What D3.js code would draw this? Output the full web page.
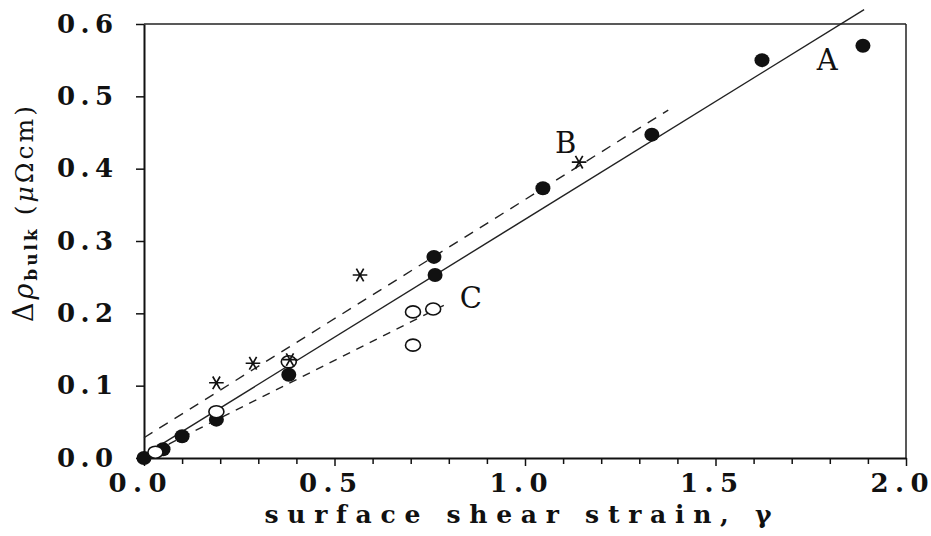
<!DOCTYPE html>
<html>
<head>
<meta charset="utf-8">
<script src="https://cdn.jsdelivr.net/npm/d3@7/dist/d3.min.js"></script>
<style>
  body { margin: 0; background: #fff; }
  svg { display: block; }
  .axis path, .axis line { stroke: #111; }
  .axis text { font-family: "DejaVu Serif", serif; fill: #111; }
</style>
</head>
<body>
<div id="chart"></div>
<script>
// data (strain gamma, delta rho in micro-ohm cm)
var filledX = [0.00, 0.05, 0.10, 0.19, 0.38, 0.764, 0.761, 1.047, 1.333, 1.622, 1.887];
var filledY = [0.000, 0.012, 0.030, 0.053, 0.115, 0.253, 0.278, 0.373, 0.447, 0.550, 0.570];

var openX = [0.03, 0.19, 0.38, 0.706, 0.759, 0.706];
var openY = [0.008, 0.064, 0.133, 0.202, 0.206, 0.156];

var starX = [0.19, 0.286, 0.383, 0.567, 1.142];
var starY = [0.104, 0.131, 0.136, 0.253, 0.409];

// end points of the three fitted lines
var lineAX = [0.00, 1.89], lineAY = [0.004, 0.620];
var lineBX = [0.00, 1.376], lineBY = [0.028, 0.481];
var lineCX = [0.03, 0.79], lineCY = [0.010, 0.212];

var curveNames = ["A", "B", "C"];
var curveLabelX = [1.766, 1.079, 0.829];
var curveLabelY = [0.537, 0.422, 0.207];

var xMajorTicks = [0.0, 0.5, 1.0, 1.5, 2.0];
var xMinorTicks = [0.1, 0.2, 0.3, 0.4, 0.6, 0.7, 0.8, 0.9, 1.1, 1.2, 1.3, 1.4, 1.6, 1.7, 1.8, 1.9];
var yTicks = [0.0, 0.1, 0.2, 0.3, 0.4, 0.5, 0.6];

var margin = {top: 24, right: 25, bottom: 78, left: 144},
    width = 931 - margin.left - margin.right,
    height = 536 - margin.top - margin.bottom;

var x = d3.scaleLinear().domain([0, 2]).range([0, width]);
var y = d3.scaleLinear().domain([0, 0.6]).range([height, 0]);

var svg = d3.select("#chart").append("svg")
    .attr("width", width + margin.left + margin.right)
    .attr("height", height + margin.top + margin.bottom)
  .append("g")
    .attr("transform", "translate(" + margin.left + "," + margin.top + ")");

// frame top and right
svg.append("line")
    .attr("x1", 0).attr("x2", width).attr("y1", 0).attr("y2", 0)
    .style("stroke", "#222").style("stroke-width", 1.5);
svg.append("line")
    .attr("x1", width).attr("x2", width).attr("y1", 0).attr("y2", height)
    .style("stroke", "#222").style("stroke-width", 1.5);

// x axis: minor ticks then labelled ticks
svg.append("g")
    .attr("class", "axis")
    .attr("transform", "translate(0," + height + ")")
    .call(d3.axisBottom(x).tickValues(xMinorTicks).tickFormat("").tickSize(6).tickSizeOuter(0))
    .call(function(g) { g.select(".domain").remove(); })
    .selectAll("line").style("stroke-width", 1.5);

var xAx = svg.append("g")
    .attr("class", "axis")
    .attr("transform", "translate(0," + height + ")")
    .call(d3.axisBottom(x).tickValues(xMajorTicks).tickFormat(d3.format(".1f")).tickSize(8).tickSizeOuter(0));
xAx.select(".domain").style("stroke-width", 2);
xAx.selectAll("line").style("stroke-width", 1.5);
xAx.selectAll("text")
    .attr("y", 34).attr("dy", null).attr("dx", -7)
    .style("font-size", "26px").style("font-weight", "bold")
    .attr("textLength", 58).attr("lengthAdjust", "spacing");

var yAx = svg.append("g")
    .attr("class", "axis")
    .call(d3.axisLeft(y).tickValues(yTicks).tickFormat(d3.format(".1f")).tickSize(8).tickSizeOuter(0));
yAx.select(".domain").style("stroke-width", 2);
yAx.selectAll("line").style("stroke-width", 1.5);
yAx.selectAll("text")
    .attr("x", -31)
    .style("font-size", "26px").style("font-weight", "bold")
    .attr("textLength", 56).attr("lengthAdjust", "spacing");

// axis titles
svg.append("text")
    .attr("x", x(1.0) - 7)
    .attr("y", height + 65)
    .attr("text-anchor", "middle")
    .attr("textLength", 507).attr("lengthAdjust", "spacing")
    .style("font-family", "DejaVu Serif, serif")
    .style("font-size", "25px").style("font-weight", "bold")
    .style("fill", "#111")
    .text("surface shear strain, \u03b3");

var yt = svg.append("text")
    .attr("transform", "translate(" + (33 - margin.left) + "," + (322 - margin.top) + ") rotate(-90)")
    .attr("text-anchor", "start")
    .style("font-family", "DejaVu Serif, serif")
    .style("font-size", "25px")
    .style("letter-spacing", "3px")
    .style("fill", "#111");
yt.append("tspan").style("font-size", "27px").text("\u0394");
yt.append("tspan").style("font-size", "27px").style("font-style", "italic").text("\u03c1");
yt.append("tspan").attr("dy", 4).style("font-size", "17px").style("font-weight", "bold").text("bulk");
yt.append("tspan").attr("dy", -4).text(" (");
yt.append("tspan").style("font-style", "italic").text("\u03bc");
yt.append("tspan").text("\u03a9cm)");

// fitted lines
var line = d3.line()
    .x(function(d) { return x(d[0]); })
    .y(function(d) { return y(d[1]); });

function pts(xs, ys) { return xs.map(function(v, i) { return [v, ys[i]]; }); }

svg.append("path")
    .datum(pts(lineAX, lineAY))
    .attr("d", line)
    .style("fill", "none").style("stroke", "#222").style("stroke-width", 1.4);
svg.append("path")
    .datum(pts(lineBX, lineBY))
    .attr("d", line)
    .style("fill", "none").style("stroke", "#222").style("stroke-width", 1.4)
    .style("stroke-dasharray", "10,8");
svg.append("path")
    .datum(pts(lineCX, lineCY))
    .attr("d", line)
    .style("fill", "none").style("stroke", "#222").style("stroke-width", 1.4)
    .style("stroke-dasharray", "8,7");

// markers
svg.selectAll(".dotA")
    .data(pts(filledX, filledY))
  .enter().append("ellipse")
    .attr("class", "dotA")
    .attr("cx", function(d) { return x(d[0]); })
    .attr("cy", function(d) { return y(d[1]); })
    .attr("rx", 7.5).attr("ry", 7)
    .style("fill", "#111");

svg.selectAll(".dotC")
    .data(pts(openX, openY))
  .enter().append("ellipse")
    .attr("class", "dotC")
    .attr("cx", function(d) { return x(d[0]); })
    .attr("cy", function(d) { return y(d[1]); })
    .attr("rx", 7.5).attr("ry", 6)
    .style("fill", "#fff").style("stroke", "#111").style("stroke-width", 1.6);

var star = d3.symbol().type(d3.symbolAsterisk).size(150);
svg.selectAll(".dotB")
    .data(pts(starX, starY))
  .enter().append("path")
    .attr("class", "dotB")
    .attr("d", star)
    .attr("transform", function(d) { return "translate(" + x(d[0]) + "," + y(d[1]) + ") rotate(90)"; })
    .style("fill", "none").style("stroke", "#111").style("stroke-width", 1.7);

// curve labels
svg.selectAll(".curveLabel")
    .data(curveNames)
  .enter().append("text")
    .attr("class", "curveLabel")
    .attr("x", function(d, i) { return x(curveLabelX[i]); })
    .attr("y", function(d, i) { return y(curveLabelY[i]); })
    .style("font-family", "DejaVu Serif, serif")
    .style("font-size", "29px")
    .style("fill", "#111")
    .text(function(d) { return d; });
</script>
</body>
</html>
